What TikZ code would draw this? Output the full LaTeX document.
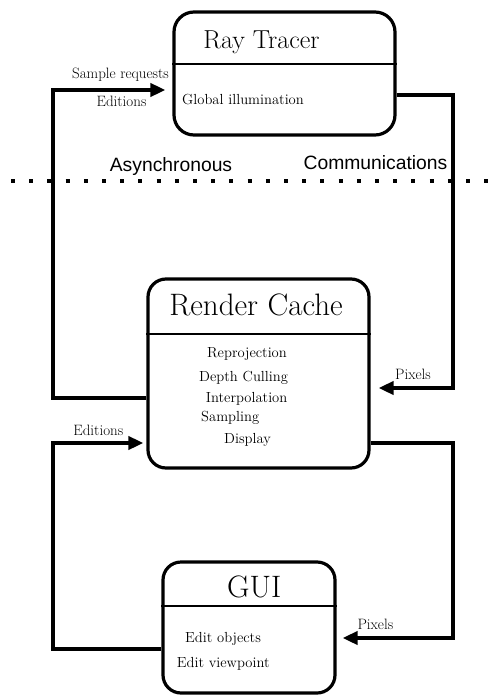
\documentclass[tikz,border=0pt]{standalone}
\usepackage{fontspec}
\newfontfamily\helv{Liberation Sans}
\usetikzlibrary{arrows.meta}

\begin{document}
\begin{tikzpicture}[x=1pt,y=-1pt,
    box/.style={draw,line width=3.2pt,rounded corners=18pt,inner sep=0pt},
    sep/.style={line width=2pt},
    flow/.style={line width=4pt,-{Triangle[length=15pt,width=13pt]}},
    title/.style={inner sep=0pt,anchor=base},
    item/.style={font=\fontsize{14.6}{16}\selectfont,inner sep=0pt,anchor=base west},
    lbl/.style={font=\fontsize{15}{17}\selectfont,inner sep=0pt,anchor=base},
    async/.style={font=\helv\fontsize{19.3}{21}\selectfont,inner sep=0pt,anchor=base}]
    \useasboundingbox (0,0) rectangle (488,695);

    % the three modules
    \node[box,rounded corners=20pt,minimum width=221pt,minimum height=123pt] (rt) at (284.5,73.5) {};
    \node[box,minimum width=221pt,minimum height=189pt] (rc) at (258.5,373.5) {};
    \node[box,minimum width=172pt,minimum height=131pt] (gui) at (249,627.5) {};
    \draw[sep] ([yshift=9.5pt]rt.west) -- ([yshift=9.5pt]rt.east);
    \draw[sep] ([yshift=39.5pt]rc.west) -- ([yshift=39.5pt]rc.east);
    \draw[sep] ([yshift=21.5pt]gui.west) -- ([yshift=21.5pt]gui.east);

    \node[title,font=\fontsize{26}{28}\selectfont] (rt_t) at (261.5,48.3) {Ray Tracer};
    \node[item] (rt_1) at (182,104.3) {Global illumination};

    \node[title,font=\fontsize{31}{33}\selectfont] (rc_t) at (256,315.7) {Render Cache};
    \node[item] (rc_1) at (207,357.7) {Reprojection};
    \node[item] (rc_2) at (199,381.7) {Depth Culling};
    \node[item] (rc_3) at (205.7,402.7) {Interpolation};
    \node[item] (rc_4) at (201,421.7) {Sampling};
    \node[item] (rc_5) at (224,443.3) {Display};

    \node[title,font=\fontsize{31}{33}\selectfont] (gui_t) at (254.3,597.7) {GUI};
    \node[item] (gui_1) at (185,642.7) {Edit objects};
    \node[item] (gui_2) at (176.7,667.3) {Edit viewpoint};

    % asynchronous boundary
    \coordinate (dl) at (11,181);
    \coordinate (dr) at (488,181);
    \draw[line width=4pt,dash pattern=on 4pt off 14.2pt] (dl) -- (dr);
    \node[async] (as_1) at (171,171.7) {Asynchronous};
    \node[async] (as_2) at (375.5,170) {Communications};

    % links between modules
    \coordinate (lrail) at (53,0);
    \coordinate (rrail) at (453,0);
    \coordinate (rt_in) at ([xshift=-7pt,yshift=-16.5pt]rt.west);
    \coordinate (rc_in) at ([xshift=8pt,yshift=-14.5pt]rc.east);
    \coordinate (rc_ed) at ([xshift=-3pt,yshift=-69.5pt]rc.west);
    \coordinate (gui_in) at ([xshift=6pt,yshift=-10.5pt]gui.east);
    \draw[flow] ([yshift=-24.5pt]rc.west) -| (lrail |- rt_in) -- (rt_in);
    \draw[flow] ([yshift=-21.5pt]rt.east) -| (rrail |- rc_in) -- (rc_in);
    \draw[flow] ([yshift=-21.5pt]gui.west) -| (lrail |- rc_ed) -- (rc_ed);
    \draw[flow] ([yshift=-69.5pt]rc.east) -| (rrail |- gui_in) -- (gui_in);

    \node[lbl,anchor=base east] (l_req) at (169,79) {Sample requests};
    \node[lbl] (l_ed1) at (121.5,106.7) {Editions};
    \node[lbl] (l_ed2) at (98.3,435.7) {Editions};
    \node[lbl,anchor=base west] (l_px1) at (395,379.3) {Pixels};
    \node[lbl,anchor=base west] (l_px2) at (357.3,629) {Pixels};
\end{tikzpicture}
\end{document}
